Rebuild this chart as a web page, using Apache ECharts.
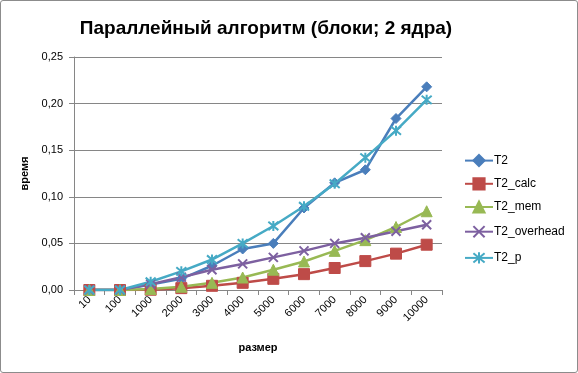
<!DOCTYPE html>
<html><head><meta charset="utf-8">
<script src="https://cdn.jsdelivr.net/npm/echarts@6/dist/echarts.min.js"></script>
<style>html,body{margin:0;padding:0;background:#fff}
#c{width:578px;height:373px;box-sizing:border-box;border:1px solid #8c8c8c;border-radius:3px}</style>
</head><body><div id="c"></div>
<script>
const categories = ['10','100','1000','2000','3000','4000','5000','6000','7000','8000','9000','10000'];
const T2          = [0,0,0.006,0.012,0.026,0.044,0.050,0.088,0.115,0.129,0.184,0.218];
const T2_calc     = [0,0,0.0003,0.002,0.0045,0.0077,0.012,0.017,0.0236,0.031,0.039,0.0486];
const T2_mem      = [0,0,0.001,0.0035,0.0077,0.0134,0.0218,0.0306,0.042,0.0535,0.0676,0.0845];
const T2_overhead = [0,0,0.0063,0.0137,0.0218,0.028,0.035,0.042,0.050,0.056,0.063,0.070];
const T2_p        = [0,0,0.0088,0.020,0.0327,0.050,0.0687,0.0898,0.114,0.142,0.171,0.204];
const yTicks = ['0,00','0,05','0,10','0,15','0,20','0,25'];

const FONT = '"Liberation Sans", Arial, sans-serif';
const chart = echarts.init(document.getElementById('c'));
function ser(name, data, color, symbol, size, extra) {
  return Object.assign({
    name, type: 'line', data, symbol, symbolSize: size,
    lineStyle: {color, width: 2.5},
    itemStyle: {color, borderColor: color, borderWidth: 1},
    emphasis: {disabled: true}
  }, extra || {});
}
const crossPath = 'path://M0,0L10,10M10,0L0,10';
const starPath = 'path://M0,0L10,10M10,0L0,10M5,-1L5,11';
chart.setOption({
  animation: false,
  title: {
    text: 'Параллейный алгоритм (блоки; 2 ядра)',
    left: 260, top: 13, textAlign: 'center',
    textStyle: {fontFamily: FONT, fontSize: 19, fontWeight: 'bold', color: '#000'}
  },
  grid: {left: 73, right: 135, top: 56, bottom: 82},
  legend: {
    orient: 'vertical', left: 458, top: 148, itemGap: 10,
    itemWidth: 28, itemHeight: 14,
    textStyle: {fontFamily: FONT, fontSize: 12, color: '#000', padding: [0,0,0,-4]},
    data: ['T2','T2_calc','T2_mem','T2_overhead','T2_p']
  },
  xAxis: {
    type: 'category', data: categories, boundaryGap: true,
    name: 'размер', nameLocation: 'middle', nameGap: 52,
    nameTextStyle: {fontFamily: FONT, fontSize: 11, fontWeight: 'bold', color: '#000'},
    axisLine: {lineStyle: {color: '#868686'}},
    axisTick: {show: true, length: 5, lineStyle: {color: '#868686'}},
    axisLabel: {rotate: 45, fontFamily: FONT, fontSize: 11, color: '#000', margin: 8, interval: 0}
  },
  yAxis: {
    type: 'value', min: 0, max: 0.25, interval: 0.05,
    name: 'время', nameLocation: 'middle', nameGap: 37, nameRotate: 90,
    nameTextStyle: {fontFamily: FONT, fontSize: 11, fontWeight: 'bold', color: '#000'},
    axisLine: {show: true, lineStyle: {color: '#868686'}},
    axisTick: {show: true, length: 5, lineStyle: {color: '#868686'}},
    splitLine: {lineStyle: {color: '#868686'}},
    axisLabel: {fontFamily: FONT, fontSize: 11, color: '#000', margin: 11,
      formatter: v => yTicks[Math.round(v / 0.05)]}
  },
  series: [
    ser('T2', T2, '#4A7EBB', 'diamond', 10),
    ser('T2_calc', T2_calc, '#BE4B48', 'rect', 11),
    ser('T2_mem', T2_mem, '#98B954', 'triangle', 11),
    ser('T2_overhead', T2_overhead, '#7D60A0', crossPath, 9,
        {itemStyle: {color: 'none', borderColor: '#7D60A0', borderWidth: 2}}),
    ser('T2_p', T2_p, '#46AAC5', starPath, 10,
        {itemStyle: {color: 'none', borderColor: '#46AAC5', borderWidth: 2}})
  ]
});
</script></body></html>
